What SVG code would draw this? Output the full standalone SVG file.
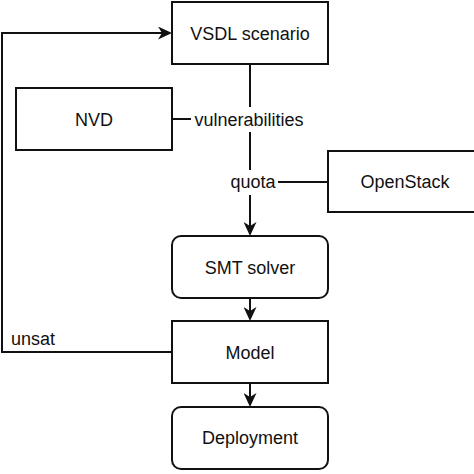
<svg xmlns="http://www.w3.org/2000/svg" width="474" height="474" viewBox="0 0 474 474">
  <style>
    .box { fill: #ffffff; stroke: #111111; stroke-width: 2; }
    .lbl { font-family: "Liberation Sans", Arial, sans-serif; font-size: 18px; fill: #111111; text-anchor: middle; }
    .edge { fill: none; stroke: #111111; stroke-width: 2; }
    .elbl { font-family: "Liberation Sans", Arial, sans-serif; font-size: 18px; fill: #111111; }
  </style>
  <defs>
    <marker id="arrow" viewBox="0 0 14 13" markerUnits="userSpaceOnUse" markerWidth="14" markerHeight="13" refX="4" refY="6.5" orient="auto">
      <path d="M0,0 L14,6.5 L0,13 L4,6.5 Z" fill="#111111"/>
    </marker>
  </defs>
  <rect width="474" height="474" fill="#ffffff"/>

  <g id="connectors">
    <!-- VSDL -> SMT solver (through labels) -->
    <path class="edge" d="M250,64 L250,226" marker-end="url(#arrow)"/>
    <!-- NVD -> vulnerabilities label -->
    <path class="edge" d="M172,119 L192,119"/>
    <!-- OpenStack -> quota label -->
    <path class="edge" d="M328,182 L278,182"/>
    <!-- SMT -> Model -->
    <path class="edge" d="M250,298 L250,311" marker-end="url(#arrow)"/>
    <!-- Model -> Deployment -->
    <path class="edge" d="M250,383 L250,397" marker-end="url(#arrow)"/>
    <!-- Model -> VSDL (unsat) -->
    <path class="edge" d="M172,352 L2,352 L2,33 L162,33" marker-end="url(#arrow)"/>
    <!-- edge labels -->
    <rect x="191" y="107" width="116" height="25" fill="#ffffff"/>
    <text class="elbl" x="249" y="126" text-anchor="middle">vulnerabilities</text>
    <rect x="229" y="170" width="49" height="25" fill="#ffffff"/>
    <text class="elbl" x="253" y="188" text-anchor="middle">quota</text>
    <text class="elbl" x="11" y="345">unsat</text>
  </g>

  <g id="vsdl">
    <rect class="box" x="172" y="2" width="156" height="62"/>
    <text class="lbl" x="250" y="39.5">VSDL scenario</text>
  </g>
  <g id="nvd">
    <rect class="box" x="16" y="88" width="156" height="62"/>
    <text class="lbl" x="94" y="125.5">NVD</text>
  </g>
  <g id="openstack">
    <rect class="box" x="328" y="151" width="156" height="61"/>
    <text class="lbl" x="405" y="187.5">OpenStack</text>
  </g>
  <g id="smt">
    <rect class="box" x="172" y="236" width="156" height="62" rx="9" ry="9"/>
    <text class="lbl" x="250" y="273.5">SMT solver</text>
  </g>
  <g id="model">
    <rect class="box" x="172" y="321" width="156" height="62"/>
    <text class="lbl" x="250" y="358.5">Model</text>
  </g>
  <g id="deployment">
    <rect class="box" x="172" y="407" width="156" height="62" rx="9" ry="9"/>
    <text class="lbl" x="250" y="444">Deployment</text>
  </g>
</svg>
